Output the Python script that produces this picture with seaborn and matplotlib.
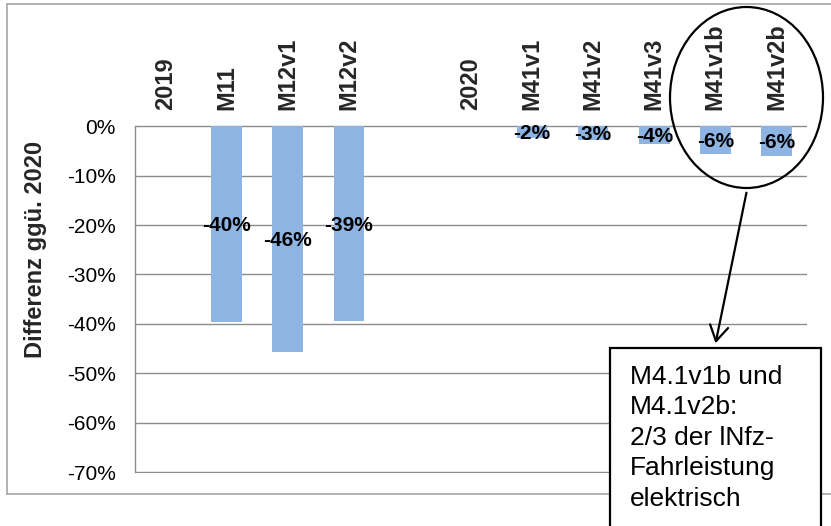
import numpy as np
import pandas as pd
import matplotlib
matplotlib.use("Agg")
import matplotlib.pyplot as plt
from matplotlib.patches import Ellipse, Rectangle, FancyArrowPatch
from matplotlib.lines import Line2D
from matplotlib.ticker import FuncFormatter, FixedLocator
import seaborn as sns

# Szenarien (leere Kategorie trennt die beiden Gruppen)
categories = ["2019", "M11", "M12v1", "M12v2", " ", "2020",
              "M41v1", "M41v2", "M41v3", "M41v1b", "M41v2b"]
differences = [0.0, -0.396, -0.457, -0.394, np.nan, 0.0,
               -0.024, -0.028, -0.036, -0.056, -0.061]
y_ticks = [0.0, -0.1, -0.2, -0.3, -0.4, -0.5, -0.6, -0.7]
y_label = "Differenz ggü. 2020"
note_lines = ["M4.1v1b und", "M4.1v2b:", "2/3 der lNfz-", "Fahrleistung", "elektrisch"]

sns.set_style("white")
plt.rcParams["font.family"] = ["Liberation Sans", "DejaVu Sans"]

W, H = 831, 526
fig = plt.figure(figsize=(W / 100, H / 100), dpi=100)


def fx(x):
    return x / W


def fy(y):
    return 1 - y / H


ax = fig.add_axes([fx(135), fy(473), fx(807) - fx(135), fy(125.3) - fy(473)])

df = pd.DataFrame({"Szenario": categories, "Differenz": differences})
sns.barplot(data=df, x="Szenario", y="Differenz", order=categories,
            color="#8EB4E3", saturation=1, width=0.5, ax=ax,
            linewidth=0, zorder=3)

ax.set_ylim(-0.702, 0.002)
ax.set_xlim(-0.5, len(categories) - 0.5)
ax.yaxis.set_major_locator(FixedLocator(y_ticks))
ax.yaxis.set_major_formatter(FuncFormatter(lambda v, _: f"{v * 100:.0f}%"))
ax.yaxis.grid(True, color="#8C8C8C", linewidth=1.0, zorder=0)
ax.set_axisbelow(True)

for s in ["top", "right", "bottom"]:
    ax.spines[s].set_visible(False)
ax.spines["left"].set_color("#8C8C8C")
ax.spines["left"].set_linewidth(1.0)
ax.spines["left"].set_bounds(-0.7, 0)

ax.tick_params(axis="y", direction="out", length=6, width=1.0, color="#8C8C8C",
               labelsize=15, pad=8, labelcolor="black")
ax.xaxis.tick_top()
ax.tick_params(axis="x", length=0, pad=11, labelsize=17)
for lab in ax.get_xticklabels():
    lab.set_rotation(90)
    lab.set_fontweight("bold")
    lab.set_verticalalignment("bottom")
ax.set_xlabel("")
ax.set_ylabel("")

# Werte-Beschriftung mittig im Balken
for i, v in enumerate(differences):
    if np.isnan(v) or v == 0:
        continue
    ax.text(i, v / 2 - 0.003, f"{v * 100:.0f}%", ha="center", va="center",
            fontsize=15, fontweight="bold", color="black", zorder=5)

fig.text(fx(36), fy(249), y_label, rotation=90, ha="center", va="center",
         fontsize=17, fontweight="bold")

# Rahmen des Diagrammbereichs
frame_kw = dict(color="#A6A6A6", linewidth=1.2, transform=fig.transFigure)
fig.add_artist(Line2D([fx(7), fx(7)], [fy(4), fy(494)], **frame_kw))
fig.add_artist(Line2D([fx(7), 1.0], [fy(4), fy(4)], **frame_kw))
fig.add_artist(Line2D([fx(7), 1.0], [fy(494), fy(494)], **frame_kw))

# Hervorhebung und Hinweisbox
fig.add_artist(Ellipse((fx(746.5), fy(97.5)), fx(153), 181 / H,
                       transform=fig.transFigure, fill=False,
                       edgecolor="black", linewidth=1.6, zorder=10))
fig.add_artist(FancyArrowPatch((fx(747), fy(190)), (fx(715), fy(346)),
                               transform=fig.transFigure,
                               arrowstyle="->,head_length=5,head_width=3",
                               mutation_scale=2.2, color="black",
                               linewidth=1.6, zorder=10))
fig.add_artist(Rectangle((fx(610), fy(540)), fx(821) - fx(610), fy(348) - fy(540),
                         transform=fig.transFigure, facecolor="white",
                         edgecolor="black", linewidth=1.6, zorder=10))
fig.text(fx(630), fy(365), "\n".join(note_lines), ha="left", va="top",
         fontsize=19, linespacing=1.34, color="black", zorder=11)

fig.savefig("out.png", dpi=100, facecolor="white")
